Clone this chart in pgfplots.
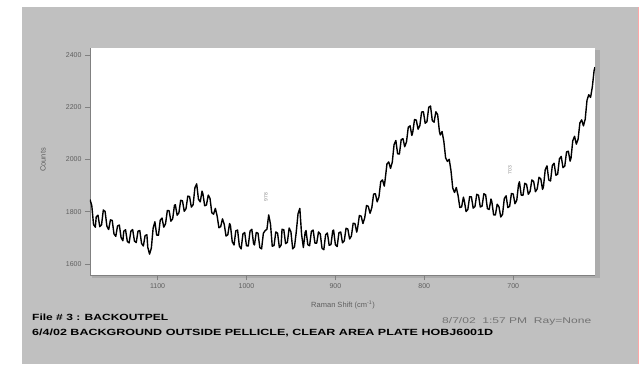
\documentclass[border=0pt]{standalone}
\usepackage{pgfplots}
\pgfplotsset{compat=1.18}
\usepackage{fontspec}
\setmainfont{Liberation Sans}
\definecolor{bg}{RGB}{192,192,192}
\definecolor{shadow}{RGB}{172,172,172}
\definecolor{tk}{RGB}{95,95,95}
\begin{document}
\begin{tikzpicture}[x=1pt,y=1pt]
\path (0,0) rectangle (639,364);
\fill[bg] (22,0) rectangle (639,357);
\fill[shadow] (595,86) rectangle (600,314);
\fill[shadow] (92,86) rectangle (600,89);
\draw[red!35, line width=0.8pt] (638.4,0) -- (638.4,357);
\begin{axis}[at={(90pt,89pt)}, anchor=south west, scale only axis,
  width=505pt, height=227pt,
  x dir=reverse, xmin=608, xmax=1176, ymin=1558, ymax=2427,
  axis background/.style={fill=white},
  axis lines=left, axis line style={-, black!50, line width=0.8pt},
  xtick={700,800,900,1000,1100}, ytick={1600,1800,2000,2200,2400},
  tick align=outside, major tick length=5pt,
  tick style={black!50, line width=0.6pt},
  ticklabel style={font=\fontsize{7}{8}\selectfont, text=tk},
  /pgf/number format/assume math mode=true,
  /pgf/number format/1000 sep={},
  clip=true]
\addplot[black, line width=1.4pt, line join=round] coordinates {
(1176,1847) (1174,1824) (1172,1751) (1170,1741) (1169,1780) (1167,1787) (1165,1743) (1163,1750)
(1161,1807) (1159,1801) (1157,1745) (1155,1732) (1153,1769) (1151,1767) (1149,1715) (1147,1706)
(1145,1746) (1143,1749) (1141,1701) (1139,1689) (1138,1726) (1136,1731) (1134,1686) (1132,1681)
(1130,1726) (1128,1732) (1126,1688) (1124,1682) (1122,1726) (1120,1728) (1118,1679) (1116,1669)
(1114,1709) (1112,1712) (1111,1664) (1109,1638) (1107,1661) (1105,1737) (1103,1762) (1101,1711)
(1099,1710) (1097,1768) (1095,1776) (1093,1741) (1091,1755) (1089,1805) (1087,1804) (1085,1764)
(1083,1773) (1081,1825) (1080,1827) (1078,1787) (1076,1796) (1074,1844) (1072,1842) (1070,1802)
(1068,1812) (1066,1860) (1064,1858) (1062,1818) (1060,1827) (1058,1892) (1056,1907) (1054,1848)
(1052,1838) (1050,1879) (1049,1869) (1047,1823) (1045,1826) (1043,1864) (1041,1851) (1039,1796)
(1037,1791) (1035,1813) (1033,1784) (1031,1739) (1029,1743) (1027,1773) (1025,1752) (1023,1707)
(1021,1712) (1019,1755) (1018,1747) (1016,1685) (1014,1673) (1012,1727) (1010,1730) (1008,1669)
(1006,1658) (1004,1715) (1002,1721) (1000,1670) (998,1669) (996,1726) (994,1733) (992,1678)
(991,1673) (989,1721) (987,1718) (985,1663) (983,1658) (981,1718) (979,1728) (977,1733)
(975,1788) (973,1753) (971,1668) (969,1671) (967,1723) (965,1718) (963,1663) (961,1673)
(960,1733) (958,1731) (956,1678) (954,1683) (952,1738) (950,1723) (948,1658) (946,1666)
(944,1723) (942,1793) (940,1813) (938,1713) (936,1663) (934,1721) (933,1728) (931,1674)
(929,1670) (927,1725) (925,1730) (923,1680) (921,1680) (919,1723) (917,1715) (915,1660)
(913,1655) (911,1712) (909,1719) (907,1672) (905,1674) (903,1727) (902,1730) (900,1674)
(898,1667) (896,1720) (894,1723) (892,1681) (890,1689) (888,1737) (886,1734) (884,1696)
(882,1707) (880,1756) (878,1755) (876,1722) (875,1738) (873,1786) (871,1783) (869,1755)
(867,1777) (865,1824) (863,1821) (861,1794) (859,1816) (857,1868) (855,1869) (853,1838)
(851,1857) (849,1915) (847,1922) (845,1898) (844,1924) (842,1983) (840,1991) (838,1966)
(836,1990) (834,2057) (832,2073) (830,2022) (828,2021) (826,2076) (824,2080) (822,2049)
(820,2068) (818,2124) (816,2129) (814,2092) (813,2104) (811,2153) (809,2151) (807,2116)
(805,2130) (803,2182) (801,2183) (799,2139) (797,2145) (795,2200) (793,2205) (791,2149)
(789,2143) (787,2183) (785,2172) (783,2108) (782,2094) (780,2107) (778,2069) (776,2006)
(774,1993) (772,2001) (770,1958) (768,1891) (766,1874) (764,1893) (762,1862) (760,1816)
(758,1819) (756,1856) (755,1842) (753,1801) (751,1809) (749,1858) (747,1857) (745,1814)
(743,1820) (741,1867) (739,1863) (737,1818) (735,1822) (733,1869) (731,1865) (729,1812)
(727,1809) (725,1849) (724,1838) (722,1788) (720,1788) (718,1829) (716,1819) (714,1780)
(712,1790) (710,1851) (708,1861) (706,1816) (704,1821) (702,1870) (700,1868) (698,1831)
(696,1844) (694,1905) (693,1915) (691,1864) (689,1863) (687,1909) (685,1905) (683,1867)
(681,1878) (679,1922) (677,1916) (675,1877) (673,1888) (671,1932) (669,1926) (667,1886)
(666,1895) (664,1961) (662,1976) (660,1922) (658,1918) (656,1977) (654,1986) (652,1940)
(650,1944) (648,2003) (646,2012) (644,1969) (642,1975) (640,2029) (638,2032) (636,1994)
(635,2005) (633,2072) (631,2089) (629,2059) (627,2078) (625,2140) (623,2152) (621,2129)
(619,2155) (617,2227) (615,2248) (613,2238) (611,2278) (609,2341) (608,2354)
};
\end{axis}
\node[font=\fontsize{5}{6}\selectfont, text=black!45, rotate=90, anchor=west] at (266,159) {978};
\node[font=\fontsize{5}{6}\selectfont, text=black!45, rotate=90, anchor=west] at (510,186) {703};
\node[font=\fontsize{7.5}{9}\selectfont, text=tk] at (343,59) {Raman Shift (cm\textsuperscript{-1})};
\node[font=\fontsize{7.5}{9}\selectfont, text=tk, rotate=90] at (43,204) {Counts};
\node[anchor=west, inner sep=0pt] at (32,47) {\resizebox{136pt}{6.5pt}{\bfseries File \# 3 : BACKOUTPEL}};
\node[anchor=west, inner sep=0pt, text=black!55] at (442,43) {\resizebox{149pt}{6pt}{8/7/02~~1:57 PM~~Ray=None}};
\node[anchor=west, inner sep=0pt] at (32,31) {\resizebox{461pt}{6.5pt}{\bfseries 6/4/02 BACKGROUND OUTSIDE PELLICLE, CLEAR AREA PLATE HOBJ6001D}};
\end{tikzpicture}
\end{document}
